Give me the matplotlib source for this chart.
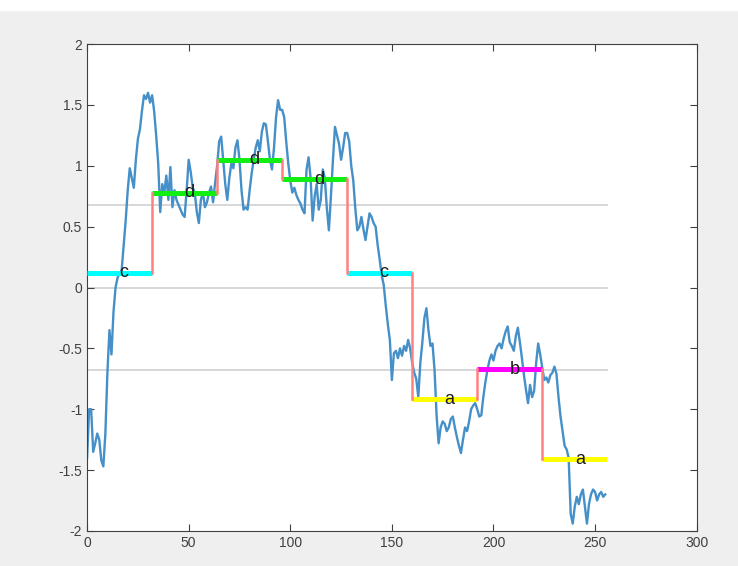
import matplotlib
matplotlib.use("Agg")
from matplotlib import pyplot as plt
from matplotlib.patches import Rectangle

# time series values, index 0..255
series = [
    -1.40, -1.00, -1.00, -1.35, -1.28, -1.20, -1.25, -1.42,
    -1.47, -1.20, -0.70, -0.35, -0.55, -0.20, 0.00, 0.08,
    0.12, 0.14, 0.35, 0.55, 0.80, 0.98, 0.90, 0.82,
    1.05, 1.22, 1.30, 1.45, 1.58, 1.55, 1.60, 1.52,
    1.58, 1.45, 1.25, 1.02, 0.62, 0.85, 0.78, 0.92,
    0.72, 0.99, 0.66, 0.80, 0.72, 0.68, 0.64, 0.60,
    0.58, 0.80, 1.05, 0.95, 0.82, 0.78, 0.62, 0.53,
    0.72, 0.78, 0.66, 0.70, 0.78, 0.83, 0.70, 0.86,
    1.00, 1.20, 1.24, 1.05, 0.85, 0.72, 0.90, 1.02,
    0.98, 1.15, 1.21, 1.05, 0.80, 0.64, 0.66, 0.64,
    0.80, 0.94, 1.05, 1.15, 1.21, 1.12, 1.28, 1.35,
    1.34, 1.20, 1.05, 0.97, 1.15, 1.40, 1.54, 1.46,
    1.46, 1.40, 1.20, 1.02, 0.88, 0.78, 0.82, 0.76,
    0.72, 0.69, 0.64, 0.61, 0.97, 1.07, 0.90, 0.55,
    0.75, 0.85, 0.64, 0.72, 0.97, 0.90, 0.65, 0.47,
    0.75, 1.05, 1.32, 1.25, 1.18, 1.05, 1.15, 1.27,
    1.27, 1.20, 1.00, 0.88, 0.65, 0.47, 0.50, 0.58,
    0.48, 0.39, 0.50, 0.61, 0.58, 0.53, 0.50, 0.35,
    0.23, 0.10, 0.02, -0.15, -0.30, -0.43, -0.76, -0.54,
    -0.52, -0.58, -0.50, -0.56, -0.48, -0.52, -0.43, -0.50,
    -0.62, -0.70, -0.75, -0.90, -0.62, -0.45, -0.25, -0.17,
    -0.35, -0.48, -0.46, -0.68, -1.05, -1.28, -1.15, -1.10,
    -1.12, -1.18, -1.15, -1.08, -1.06, -1.15, -1.23, -1.30,
    -1.36, -1.25, -1.15, -1.18, -1.10, -1.00, -0.97, -0.95,
    -1.00, -1.06, -1.05, -0.90, -0.78, -0.68, -0.60, -0.55,
    -0.60, -0.52, -0.48, -0.46, -0.50, -0.42, -0.36, -0.32,
    -0.45, -0.48, -0.52, -0.40, -0.33, -0.45, -0.58, -0.72,
    -0.84, -0.95, -0.80, -0.90, -0.85, -0.62, -0.46, -0.55,
    -0.66, -0.76, -0.74, -0.78, -0.72, -0.70, -0.65, -0.71,
    -0.90, -1.06, -1.18, -1.30, -1.33, -1.40, -1.86, -1.94,
    -1.80, -1.72, -1.78, -1.70, -1.66, -1.80, -1.94, -1.78,
    -1.70, -1.66, -1.68, -1.75, -1.70, -1.68, -1.72, -1.70,
]

# SAX segments
seg_len = 32
seg_levels = [0.12, 0.78, 1.05, 0.89, 0.12, -0.92, -0.67, -1.41]
seg_letters = ["c", "d", "d", "d", "c", "a", "b", "a"]
letter_colors = {"a": "#ffff00", "b": "#ff00ff", "c": "#00ffff", "d": "#11ee11"}
breakpoints = [-0.6745, 0.0, 0.6745]


def main():
    plt.rcParams["axes.unicode_minus"] = False
    plt.rcParams["font.family"] = ["Liberation Sans", "DejaVu Sans"]

    fig = plt.figure(figsize=(7.38, 5.66), dpi=100, facecolor="#efefef")
    fig.add_artist(Rectangle((0, 0.982), 1, 0.02, transform=fig.transFigure,
                             color="white", zorder=0))
    ax = fig.add_axes([0.118, 0.062, 0.826, 0.860])

    n = len(series)
    for b in breakpoints:
        ax.plot([0, n], [b, b], color="#d4d4d4", lw=1.3, zorder=1)

    ax.plot(range(n), series, color="#4590c8", lw=1.7, zorder=2)

    for i, (lvl, ch) in enumerate(zip(seg_levels, seg_letters)):
        x0 = i * seg_len
        ax.plot([x0, x0 + seg_len], [lvl, lvl], color=letter_colors[ch],
                lw=3.6, solid_capstyle="butt", zorder=3)
        if i > 0:
            ax.plot([x0, x0], [seg_levels[i - 1], lvl], color="#ff8080",
                    lw=1.8, zorder=3)
        ax.text(x0 + seg_len / 2, lvl, ch, ha="left", va="center",
                fontsize=13, color="#1a1a1a", zorder=4)

    ax.set_xlim(0, 300)
    ax.set_ylim(-2, 2)
    ax.set_xticks(range(0, 301, 50))
    ax.set_yticks([-2, -1.5, -1, -0.5, 0, 0.5, 1, 1.5, 2])
    ax.set_yticklabels(["-2", "-1.5", "-1", "-0.5", "0", "0.5", "1", "1.5", "2"])
    ax.tick_params(direction="in", top=True, right=True, labelsize=10,
                   colors="#404040", length=5, width=0.8)
    for s in ax.spines.values():
        s.set_color("#404040")
        s.set_linewidth(0.8)

    fig.savefig("out.png", dpi=100, facecolor=fig.get_facecolor())


if __name__ == "__main__":
    main()
